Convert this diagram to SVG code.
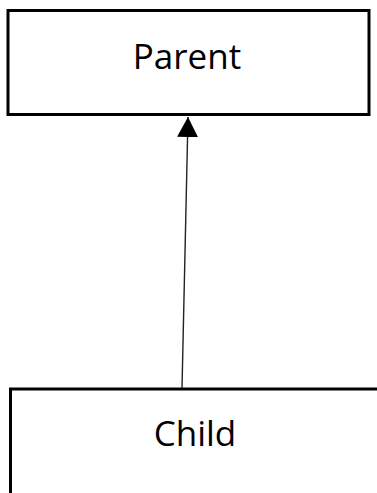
<svg xmlns="http://www.w3.org/2000/svg" width="377" height="493" viewBox="0 0 377 493">
<style>
.box{fill:#fff;stroke:#000;stroke-width:3}
.lbl{font-family:"Open Sans","Liberation Sans",sans-serif;font-size:35px;fill:#000;text-anchor:middle}
.conn{stroke:#222;stroke-width:1.4;fill:none}
</style>
<defs>
<marker id="arr" markerWidth="20" markerHeight="22" refX="21" refY="11" orient="auto" markerUnits="userSpaceOnUse" viewBox="0 0 21 22">
<path d="M0,0 L21,11 L0,22 Z" fill="#000"/>
</marker>
</defs>
<rect width="377" height="493" fill="#fff"/>
<g id="parent">
<rect class="box" x="8" y="10.5" width="361" height="104"/>
<text class="lbl" x="187" y="69">Parent</text>
</g>
<g id="child">
<rect class="box" x="10.5" y="389" width="380" height="120"/>
<text class="lbl" x="195" y="446">Child</text>
</g>
<g id="connectors">
<line class="conn" x1="182" y1="388" x2="188" y2="117" marker-end="url(#arr)"/>
</g>
</svg>
